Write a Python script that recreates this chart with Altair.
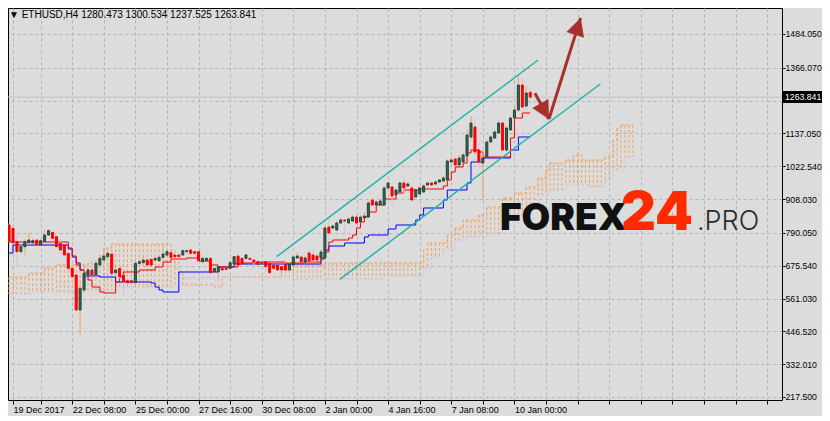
import altair as alt
import pandas as pd

# ---------------- data ----------------
symbol = "ETHUSD"
timeframe = "H4"

# H4 candles, bar 0 = 19 Dec 2017 16:00
opens = [817.6, 805.9, 759.4, 724.5, 742.0, 755.9, 755.9, 765.2, 747.8, 759.4,
         782.7, 792.0, 776.9, 753.6, 747.8, 718.7, 666.4, 643.1, 521.0, 590.8,
         643.1, 660.6, 643.1, 678.0, 695.5, 707.1, 716.4, 651.3, 666.4, 643.1,
         623.4, 623.4, 616.4, 683.8, 686.2, 695.5, 697.8, 695.5, 693.1, 704.8,
         712.9, 721.0, 712.9, 712.9, 712.9, 724.5, 730.4, 724.5, 724.5, 689.6,
         693.1, 701.3, 654.7, 654.7, 666.4, 666.4, 666.4, 681.5, 709.4, 701.3,
         701.3, 701.3, 695.5, 689.6, 686.2, 689.6, 683.8, 678.0, 678.0, 672.2,
         681.5, 660.6, 678.1, 702.5, 706.0, 688.5, 719.9, 712.9, 709.5, 702.5,
         702.5, 810.6, 807.1, 800.2, 824.6, 835.1, 824.6, 831.6, 845.5, 828.1,
         842.0, 845.5, 904.8, 887.4, 887.4, 887.4, 946.7, 950.2, 922.3, 932.8,
         964.2, 953.7, 946.7, 915.3, 925.8, 932.8, 957.2, 964.2, 960.7, 967.6,
         971.1, 974.6, 1037.4, 1047.9, 1027.0, 1037.4, 1058.4, 1124.7, 1159.5, 1079.3,
         1034.0, 1054.9, 1107.2, 1121.2, 1138.6, 1173.5, 1079.3, 1149.1, 1190.9, 1218.9,
         1306.1, 1232.8, 1280.473]
highs = [823.4, 811.8, 792.0, 747.8, 767.6, 790.8, 771.1, 767.6, 767.6, 802.5,
         802.5, 794.3, 779.2, 771.1, 750.1, 721.0, 672.2, 646.6, 614.1, 683.8,
         672.2, 695.5, 695.5, 704.8, 732.7, 730.4, 718.7, 678.0, 672.2, 646.6,
         625.7, 631.5, 686.2, 692.0, 712.9, 721.0, 700.1, 704.8, 707.1, 742.0,
         728.0, 723.4, 718.7, 715.2, 730.4, 731.5, 732.7, 726.9, 726.9, 704.8,
         704.8, 704.8, 668.7, 678.0, 668.7, 668.7, 689.6, 709.4, 711.7, 703.6,
         718.7, 704.8, 697.8, 692.0, 689.6, 692.0, 686.2, 680.3, 680.3, 674.5,
         688.5, 688.5, 712.9, 723.4, 712.9, 709.5, 730.4, 733.9, 716.4, 733.9,
         814.1, 842.0, 821.1, 831.6, 842.0, 838.6, 845.5, 852.5, 852.5, 852.5,
         863.0, 901.4, 911.8, 904.8, 908.3, 953.7, 971.1, 957.2, 943.2, 971.1,
         985.1, 967.6, 953.7, 946.7, 953.7, 960.7, 967.6, 967.6, 974.6, 978.1,
         988.6, 1047.9, 1054.9, 1054.9, 1061.9, 1068.8, 1149.1, 1197.9, 1194.4, 1107.2,
         1079.3, 1114.2, 1131.6, 1149.1, 1180.5, 1180.5, 1163.0, 1197.9, 1232.8, 1341.0,
         1330.5, 1302.6, 1300.534]
lows = [755.9, 751.3, 674.5, 721.0, 712.9, 747.8, 751.3, 744.3, 744.3, 753.6,
        779.2, 767.6, 739.7, 718.7, 709.4, 662.9, 625.7, 518.7, 433.8, 579.2,
        639.6, 639.6, 631.5, 674.5, 689.6, 701.3, 646.6, 637.3, 631.5, 573.4,
        614.1, 590.8, 614.1, 681.5, 678.0, 675.7, 675.7, 692.0, 690.8, 701.3,
        710.6, 702.4, 701.3, 704.8, 710.6, 722.2, 716.4, 716.4, 689.6, 683.8,
        689.6, 649.0, 651.3, 631.5, 658.2, 658.2, 662.9, 678.0, 675.7, 678.0,
        697.8, 695.5, 672.2, 678.0, 681.5, 654.7, 649.0, 660.6, 657.1, 657.1,
        653.6, 657.1, 674.6, 699.0, 685.0, 685.0, 688.5, 688.5, 692.0, 699.0,
        695.5, 765.3, 803.7, 796.7, 821.1, 782.7, 821.1, 828.1, 821.1, 824.6,
        838.6, 842.0, 884.0, 884.0, 884.0, 884.0, 943.2, 880.4, 918.8, 929.3,
        929.3, 950.2, 901.4, 911.8, 922.3, 929.3, 953.7, 953.7, 957.2, 964.2,
        967.6, 971.1, 1034.0, 1023.5, 1023.5, 1034.0, 1054.9, 1114.2, 1058.4, 1016.5,
        904.8, 1051.4, 1103.7, 1117.7, 1135.1, 1072.3, 1072.3, 1145.6, 1187.4, 1211.9,
        1225.8, 1225.8, 1237.525]
closes = [759.4, 755.9, 724.5, 742.0, 759.4, 765.2, 762.9, 747.8, 762.9, 782.7,
          797.8, 771.1, 742.0, 730.4, 712.9, 666.4, 637.3, 521.0, 596.6, 649.0,
          660.6, 643.1, 683.8, 701.3, 709.4, 718.7, 649.0, 660.6, 637.3, 619.9,
          616.4, 617.5, 683.8, 689.6, 695.5, 678.0, 678.0, 701.3, 704.8, 716.4,
          724.5, 704.8, 707.1, 707.1, 728.0, 728.0, 718.7, 718.7, 693.1, 701.3,
          701.3, 651.3, 666.4, 672.2, 660.6, 662.9, 686.2, 707.1, 678.0, 681.5,
          712.9, 697.8, 688.5, 680.3, 683.8, 672.2, 651.3, 666.4, 660.6, 660.6,
          660.6, 681.5, 706.0, 709.5, 688.5, 702.5, 692.0, 695.5, 695.5, 723.4,
          807.1, 789.7, 814.1, 824.6, 835.1, 831.6, 838.6, 845.5, 824.6, 845.5,
          849.0, 894.4, 887.4, 897.9, 901.4, 946.7, 964.2, 918.8, 939.7, 964.2,
          946.7, 960.7, 904.8, 939.7, 946.7, 953.7, 964.2, 957.2, 967.6, 974.6,
          981.6, 1040.9, 1044.4, 1027.0, 1051.4, 1061.9, 1131.6, 1173.5, 1072.3, 1037.4,
          1051.4, 1107.2, 1124.7, 1142.1, 1173.5, 1079.3, 1156.1, 1190.9, 1218.9, 1306.1,
          1229.3, 1278.2, 1263.841]

# Ichimoku: Tenkan-sen (red) and Kijun-sen (blue) as step breakpoints
tenkan_bars = [0, 15, 16, 17, 18, 19, 20, 21, 23, 24, 27, 28, 29, 33, 37, 39, 41, 45, 48,
               51, 53, 58, 59, 63, 70, 75, 79, 80, 81, 82, 86, 87, 88, 89, 90, 91, 93, 95,
               98, 100, 104, 110, 111, 112, 113, 115, 116, 117, 119, 120, 127, 128, 130, 132]
tenkan_vals = [758.3, 737.4, 709.5, 678.1, 660.6, 650.2, 625.7, 601.3, 583.8, 580.4, 618.7,
               636.2, 653.6, 660.6, 671.1, 688.5, 699.0, 702.5, 692.0, 678.1, 671.1, 681.5,
               685.0, 688.5, 685.0, 688.5, 702.5, 723.4, 758.3, 765.3, 772.3, 782.7, 807.1,
               828.1, 845.5, 863.0, 887.4, 908.3, 929.3, 939.7, 943.2, 953.7, 974.6, 1002.5,
               1020.0, 1034.0, 1068.8, 1079.3, 1072.3, 1054.9, 1121.2, 1190.9, 1208.4, 1208.4]
kijun_bars = [0, 1, 15, 16, 17, 18, 19, 23, 27, 36, 37, 38, 39, 43, 53, 57, 79, 80, 81,
              85, 90, 91, 96, 98, 103, 104, 105, 110, 111, 116, 117, 120, 127, 129, 132]
kijun_vals = [719.9, 747.8, 733.9, 706.0, 685.0, 660.6, 639.7, 636.2, 618.7, 615.2, 601.3,
              590.8, 583.8, 653.6, 671.1, 681.5, 699.0, 730.4, 744.3, 754.8, 775.8, 782.7,
              803.7, 817.6, 835.1, 852.5, 876.9, 904.8, 939.7, 964.2, 1037.4, 1051.4,
              1079.3, 1124.7, 1124.7]

# Senkou span A / B per bar (bars 0..158, shifted 26 bars forward)
span_a = ([636.2] * 5 + [650.2] * 4 + [667.6] * 3 + [678.1] * 8 + [685.0] * 3 + [712.9]
          + [737.4] * 2 + [751.3] * 15 + [730.4] + [688.5] + [653.6] + [608.3] * 8
          + [601.3] * 2 + [636.2] * 15 + [660.6] * 3 + [678.1] * 8 + [685.0] * 25 + [730.4]
          + [754.8] * 5 + [782.7] * 2 + [807.1] * 2 + [835.1] * 4 + [852.5] * 2 + [880.4] * 4
          + [911.8] * 3 + [929.3] * 3 + [950.2] * 3 + [981.6] * 2 + [1009.5] + [1034.0] * 4
          + [1044.4] * 2 + [1061.9] * 2 + [1044.4] * 6 + [1054.9] * 2 + [1114.2] + [1156.1]
          + [1166.5] * 4)
span_b = ([576.9] * 6 + [583.8] * 12 + [590.8] * 9 + [601.3] * 16 + [636.2] * 29
          + [629.2] * 23 + [639.7] * 10 + [667.6] * 2 + [706.0] * 3 + [730.4] * 3
          + [765.3] * 3 + [775.8] * 5 + [789.7] * 4 + [835.1] * 4 + [852.5] * 2 + [880.4] * 3
          + [922.3] * 3 + [939.7] * 4 + [957.2] * 6 + [950.2] * 4 + [974.6] * 2
          + [1009.5] * 3 + [1054.9] * 3)

# axes
x_label_bars = [0, 16, 32, 48, 64, 80, 96, 112, 128]
x_labels = ["19 Dec 2017", "22 Dec 08:00", "25 Dec 00:00", "27 Dec 16:00", "30 Dec 08:00",
            "2 Jan 00:00", "4 Jan 16:00", "7 Jan 08:00", "10 Jan 00:00"]
x_grid_bars = [0, 8, 16, 24, 32, 40, 48, 56, 64, 72, 80, 88, 96, 104, 112, 120, 128,
               136, 144, 152, 160, 168, 176, 184, 192]
y_ticks = [217.5, 332.01, 446.52, 561.03, 675.54, 790.05, 908.03, 1022.54, 1137.05,
           1251.56, 1366.07, 1484.05]
y_hidden_tick = 1251.56
bid = 1263.841

# drawn objects: trend channel and arrows (bar index, price)
chan_upper_bars = [67.75, 134.0]
chan_upper_prices = [707.0, 1393.3]
chan_lower_bars = [83.75, 149.75]
chan_lower_prices = [628.2, 1309.6]
arrow1_bars = [133.2, 136.75]
arrow1_prices = [1277.2, 1187.5]
arrow2_bars = [136.75, 144.75]
arrow2_prices = [1187.5, 1539.9]
head_bars = [135.5, 144.0]
head_prices = [1217.9, 1506.7]
head_angles = [151, 18]

# ---------------- chart ----------------
X0, X1 = 1.0, 194.5
Y0, Y1 = 207.03, 1574.76
W, H = 774, 392
FONT = "Liberation Sans"
FS = 9
FSY = 8.7

xs = alt.Scale(domain=[X0, X1], nice=False, zero=False)
ys = alt.Scale(domain=[Y0, Y1], nice=False, zero=False)

label_pos = [max(b, X0) for b in x_label_bars]
x_values = sorted(set([max(b, X0) for b in x_grid_bars]))
expr = "''"
for b, t in zip(reversed(label_pos), reversed(x_labels)):
    expr = f"datum.value == {b} ? '{t}' : ({expr})"

x_axis = alt.Axis(values=x_values, labelExpr=expr, title=None, grid=True, labelAlign="left",
                  labelOverlap=False, labelFlush=False, tickSize=4, labelPadding=1,
                  labelFont=FONT, labelFontSize=FS, labelColor="black", tickColor="black",
                  gridColor="#b4b4b4", gridDash=[3, 3], domain=False)
y_axis = alt.Axis(values=y_ticks, orient="right", title=None, grid=True,
                  labelExpr=f"datum.value == {y_hidden_tick} ? '' : format(datum.value, '.3f')",
                  labelOverlap=False, labelFlush=False, tickSize=3, labelPadding=0,
                  labelFont=FONT, labelFontSize=FSY, labelColor="black", tickColor="black",
                  gridColor="#b4b4b4", gridDash=[3, 3], domain=False)


def X(f):
    return alt.X(f, type="quantitative", scale=xs, axis=x_axis)


def Y(f):
    return alt.Y(f, type="quantitative", scale=ys, axis=y_axis)


n = len(opens)
candles = pd.DataFrame({"i": list(range(n)), "o": opens, "h": highs, "l": lows, "c": closes})
candles["dir"] = ["up" if c >= o else "down" for o, c in zip(opens, closes)]

cloud = pd.DataFrame({"i": list(range(len(span_a))), "a": span_a, "b": span_b})
cloud["kind"] = ["up" if a >= b else "down" for a, b in zip(span_a, span_b)]

tenkan = pd.DataFrame({"i": tenkan_bars, "v": tenkan_vals})
kijun = pd.DataFrame({"i": kijun_bars, "v": kijun_vals})

chan = pd.DataFrame({
    "i": chan_upper_bars + chan_lower_bars,
    "p": chan_upper_prices + chan_lower_prices,
    "line": ["upper", "upper", "lower", "lower"],
})
arrows = pd.DataFrame({
    "i": arrow1_bars + arrow2_bars,
    "p": arrow1_prices + arrow2_prices,
    "a": ["a1", "a1", "a2", "a2"],
})
heads = pd.DataFrame({"i": head_bars, "p": head_prices, "ang": head_angles})

hatch = alt.Chart(cloud).mark_rule(strokeWidth=1, strokeDash=[3, 2]).encode(
    x=X("i"), y=Y("a"), y2="b",
    color=alt.Color("kind:N", scale=alt.Scale(domain=["up", "down"],
                                              range=["#f4a460", "#d8bfd8"]), legend=None))
span_a_line = alt.Chart(cloud).mark_line(color="#f4a460", strokeWidth=1, strokeDash=[3, 2],
                                          interpolate="step-after").encode(x=X("i"), y=Y("a"))
span_b_line = alt.Chart(cloud).mark_line(color="#d8bfd8", strokeWidth=1, strokeDash=[3, 2],
                                          interpolate="step-after").encode(x=X("i"), y=Y("b"))

bid_line = alt.Chart(pd.DataFrame({"p": [bid]})).mark_rule(color="#c4c4c4", strokeWidth=1).encode(
    y=Y("p"))

tenkan_line = alt.Chart(tenkan).mark_line(color="#ff0000", strokeWidth=1,
                                          interpolate="step-after").encode(x=X("i"), y=Y("v"))
kijun_line = alt.Chart(kijun).mark_line(color="#0000ff", strokeWidth=1,
                                        interpolate="step-after").encode(x=X("i"), y=Y("v"))

wicks = alt.Chart(candles).mark_rule(strokeWidth=1).encode(
    x=X("i"), y=Y("l"), y2="h",
    color=alt.Color("dir:N", scale=alt.Scale(domain=["up", "down"],
                                             range=["#2f4f4f", "#ff0000"]), legend=None))
bodies = alt.Chart(candles).mark_bar(width=2, strokeWidth=1).encode(
    x=X("i"), y=Y("o"), y2="c",
    fill=alt.Fill("dir:N", scale=alt.Scale(domain=["up", "down"],
                                           range=["#2f6b55", "#ff0000"]), legend=None),
    stroke=alt.Stroke("dir:N", scale=alt.Scale(domain=["up", "down"],
                                               range=["#24443a", "#ff0000"]), legend=None))

channel = alt.Chart(chan).mark_line(color="#20b2aa", strokeWidth=1.5).encode(
    x=X("i"), y=Y("p"), detail="line:N")

arrow_lines = alt.Chart(arrows).mark_line(color="#a8312b", strokeWidth=3).encode(
    x=X("i"), y=Y("p"), detail="a:N")
arrow_heads = alt.Chart(heads).mark_point(
    shape="M0,-1L0.9,0.75L-0.9,0.75Z", filled=True, color="#a8312b", size=420, opacity=1
).encode(x=X("i"), y=Y("p"), angle=alt.Angle("ang:Q", scale=None))

# current price marker on the price axis
price_box = alt.Chart(pd.DataFrame({"p": [bid]})).mark_point(
    shape="M-1,-0.3H1V0.3H-1Z", filled=True, color="black", size=1600, opacity=1
).encode(x=alt.value(795), y=Y("p"))
price_txt = alt.Chart(pd.DataFrame({"p": [bid], "t": [f"{bid:.3f}"]})).mark_text(
    font=FONT, fontSize=FSY, color="white", align="left", baseline="middle"
).encode(x=alt.value(777), y=Y("p"), text="t:N")

header = f"\u25BC {symbol},{timeframe}  {opens[-1]:.3f} {highs[-1]:.3f} {lows[-1]:.3f} {closes[-1]:.3f}"
head_txt = alt.Chart(pd.DataFrame({"t": [header]})).mark_text(
    font=FONT, fontSize=10, color="black", align="left", baseline="middle"
).encode(x=alt.value(1), y=alt.value(7), text="t:N")

logo1 = alt.Chart(pd.DataFrame({"t": ["FOREX"]})).mark_text(
    font="Inter", fontWeight=900, fontSize=37, color="#111111", align="left", baseline="alphabetic"
).encode(x=alt.value(492), y=alt.value(222), text="t:N")
logo2 = alt.Chart(pd.DataFrame({"t": ["24"]})).mark_text(
    font="Inter", fontWeight=900, fontSize=54, color="#ff2a00", align="left", baseline="alphabetic"
).encode(x=alt.value(613), y=alt.value(222), text="t:N")
logo3 = alt.Chart(pd.DataFrame({"t": [".PRO"]})).mark_text(
    font="Inter", fontWeight=300, fontSize=27, color="#2a2a2a", align="left", baseline="alphabetic"
).encode(x=alt.value(689), y=alt.value(222), text="t:N")

chart = alt.layer(
    hatch, span_a_line, span_b_line, bid_line, kijun_line, tenkan_line, wicks, bodies,
    logo1, logo2, logo3, channel, arrow_lines, arrow_heads, price_box, price_txt, head_txt
).properties(
    width=W, height=H,
    autosize=alt.AutoSizeParams(type="none"),
    padding={"left": 0, "top": 0, "right": 40, "bottom": 16},
    background="#dcdcdc",
).configure_view(stroke="black", strokeWidth=1, fill="#dcdcdc")

chart.save("out.html", embed_options={"renderer": "svg", "actions": False})
